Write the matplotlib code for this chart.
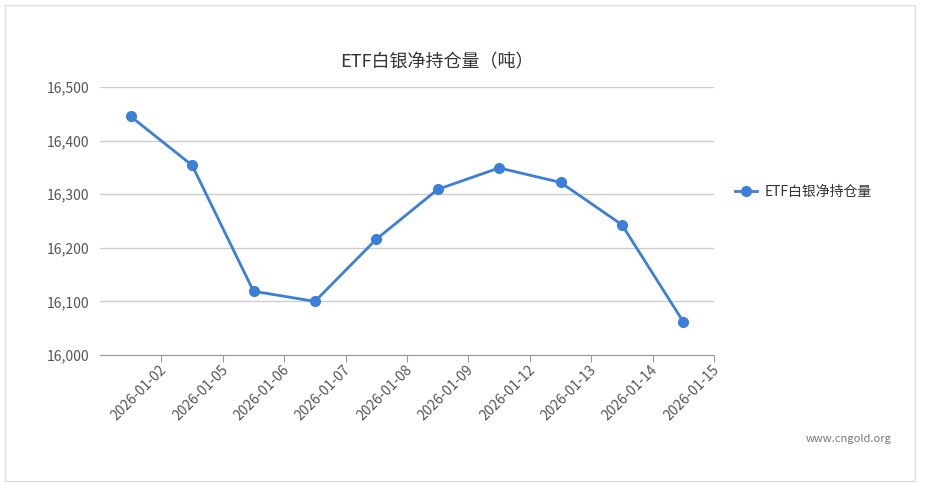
import matplotlib
matplotlib.use("Agg")
import matplotlib.pyplot as plt
from matplotlib.patches import Rectangle
import matplotlib.transforms as mtransforms

plt.rcParams['font.family'] = ['Noto Sans CJK SC', 'DejaVu Sans']

dates = ["2026-01-02","2026-01-05","2026-01-06","2026-01-07","2026-01-08",
         "2026-01-09","2026-01-12","2026-01-13","2026-01-14","2026-01-15"]
values = [16445, 16354, 16119, 16100, 16216, 16309, 16349, 16322, 16243, 16062]
yticks = [16000, 16100, 16200, 16300, 16400, 16500]

W, H = 925, 486
fig = plt.figure(figsize=(W/100, H/100), dpi=100)
fig.patches.append(Rectangle((5/W, 5/H), 910/W, 476/H, transform=fig.transFigure,
                             fill=False, edgecolor='#dddddd', lw=1))
ax = fig.add_axes([100/W, 1-355/H, 614/W, 268/H])
xs = [i + 0.5 for i in range(len(values))]
ax.plot(xs, values, color='#3b7fd9', lw=2, marker='o', ms=7, label='ETF白银净持仓量', zorder=3)
ax.set_xlim(0, len(values))
ax.set_ylim(16000, 16500)
ax.set_yticks(yticks)
ax.set_yticklabels([f"{v:,}" for v in yticks], color='#555555', fontsize=10)
ax.yaxis.grid(True, color='#cccccc', lw=1)
ax.tick_params(axis='y', length=0, pad=8)
ax.set_xticks(range(1, len(values)+1))
ax.set_xticklabels([])
ax.tick_params(axis='x', length=5, color='#999999')
base = ax.get_xaxis_transform() + mtransforms.ScaledTranslation(-2/100, -8/100, fig.dpi_scale_trans)
for i, d in enumerate(dates):
    ax.text(i + 1, 0, d, transform=base, rotation=45, ha='right', va='top',
            rotation_mode='anchor', color='#555555', fontsize=10)
for s in ['top', 'right', 'left']:
    ax.spines[s].set_visible(False)
ax.spines['bottom'].set_color('#999999')
fig.text(437/W, 1-62/H, 'ETF白银净持仓量（吨）', ha='center', va='center', fontsize=13, color='#333333')
ax.legend(loc='center left', bbox_to_anchor=((735-100)/614, 1-(192-87)/268), frameon=False,
          fontsize=10, handlelength=1.6, handletextpad=0.5, labelcolor='#333333', borderaxespad=0, borderpad=0)
fig.text(892/W, 1-439/H, 'www.cngold.org', ha='right', va='center', fontsize=8, color='#777777')
fig.savefig('out.png', dpi=100)
